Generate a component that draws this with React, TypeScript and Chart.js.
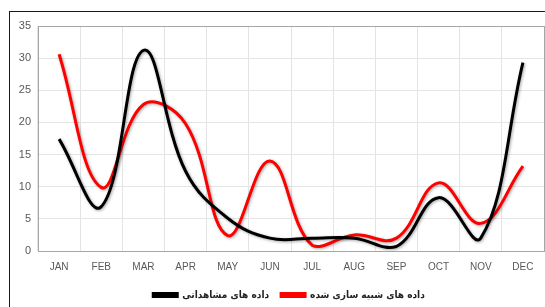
import React, { useEffect, useRef } from "react";
import { Chart, registerables } from "chart.js";

Chart.register(...registerables);

const months = ["JAN", "FEB", "MAR", "APR", "MAY", "JUN", "JUL", "AUG", "SEP", "OCT", "NOV", "DEC"];
const observed = [17.4, 6.9, 31.2, 12.4, 5.1, 2.0, 2.0, 2.0, 0.7, 8.3, 2.0, 29.3];
const simulated = [30.6, 9.9, 22.8, 19.8, 2.4, 14.0, 0.9, 2.5, 2.0, 10.6, 4.3, 13.2];
const observedLabel = "داده های مشاهداتی";
const simulatedLabel = "داده های شبیه سازی شده";

const framePlugin = {
  id: "frame",
  afterLayout(chart: any) {
    if (chart.legend) {
      chart.legend.left += 17;
      chart.legend.right += 17;
      chart.legend.top += 1;
      chart.legend.bottom += 1;
    }
  },
  afterDraw(chart: any) {
    const { ctx, chartArea } = chart;
    ctx.save();
    ctx.strokeStyle = "#a6a6a6";
    ctx.lineWidth = 1;
    ctx.strokeRect(
      Math.round(chartArea.left) + 0.5,
      Math.round(chartArea.top) + 0.5,
      Math.round(chartArea.right - chartArea.left),
      Math.round(chartArea.bottom - chartArea.top)
    );
    ctx.restore();
  },
  beforeDatasetDraw(chart: any) {
    const ctx = chart.ctx;
    ctx.save();
    ctx.shadowColor = "rgba(0,0,0,0.35)";
    ctx.shadowBlur = 3;
    ctx.shadowOffsetX = 1;
    ctx.shadowOffsetY = 1;
  },
  afterDatasetDraw(chart: any) {
    chart.ctx.restore();
  },
};

export default function App() {
  const ref = useRef<HTMLCanvasElement | null>(null);
  useEffect(() => {
    if (!ref.current) return;
    const chart = new Chart(ref.current, {
      type: "line",
      data: {
        labels: months,
        datasets: [
          {
            label: observedLabel,
            data: observed,
            borderColor: "#000000",
            backgroundColor: "#000000",
            borderWidth: 3,
            pointRadius: 0,
            tension: 0.4,
          },
          {
            label: simulatedLabel,
            data: simulated,
            borderColor: "#ff0000",
            backgroundColor: "#ff0000",
            borderWidth: 3,
            pointRadius: 0,
            tension: 0.4,
          },
        ],
      },
      options: {
        animation: false,
        responsive: false,
        maintainAspectRatio: false,
        layout: { padding: { left: 0, right: 1, top: 26, bottom: -2 } },
        plugins: {
          legend: {
            position: "bottom",
            labels: {
              boxWidth: 24,
              boxHeight: 3,
              color: "#222222",
              padding: 12,
              font: { family: "DejaVu Sans Condensed", size: 10, weight: "bold" },
            },
          },
          tooltip: { enabled: false },
        },
        scales: {
          x: {
            offset: true,
            afterFit(scale: any) {
              scale.height = 26;
            },
            grid: { color: "#e4e4e4", offset: true, drawTicks: false },
            border: { display: false },
            ticks: {
              color: "#595959",
              padding: 10,
              font: { family: "Liberation Sans", size: 10 },
            },
          },
          y: {
            min: 0,
            max: 35,
            afterFit(scale: any) {
              scale.width = 38;
            },
            grid: { color: "#e4e4e4", drawTicks: false },
            border: { display: false },
            ticks: {
              stepSize: 5,
              color: "#595959",
              padding: 7,
              font: { family: "Liberation Sans", size: 11 },
            },
          },
        },
      },
      plugins: [framePlugin],
    } as any);
    return () => chart.destroy();
  }, []);
  return (
    <div style={{ position: "fixed", left: 0, top: 0, width: 545, height: 307, overflow: "hidden", background: "#fff" }}>
      <div
        style={{
          position: "absolute",
          left: 9,
          top: 11,
          width: 600,
          height: 400,
          border: "1.5px solid #1a1a1a",
        }}
      />
      <canvas ref={ref} width={545} height={307} style={{ position: "absolute", left: 0, top: 0 }} />
    </div>
  );
}
